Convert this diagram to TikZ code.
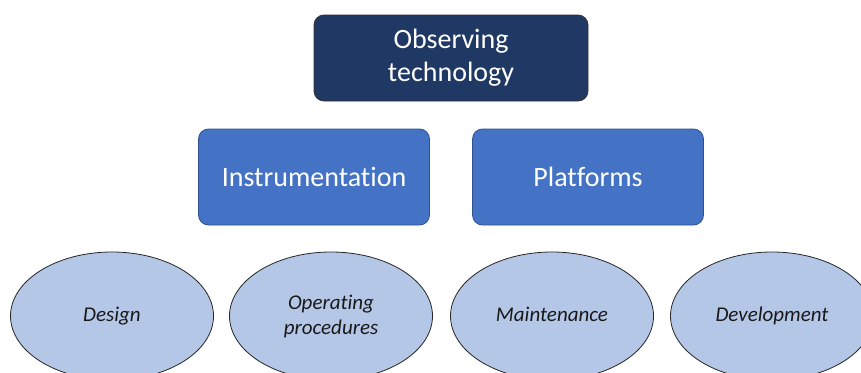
\documentclass[tikz,border=0pt]{standalone}
\usepackage{fontspec}
\setmainfont{Carlito}[Ligatures=NoCommon]
\usetikzlibrary{shapes.geometric}

\definecolor{navy}{HTML}{203864}
\definecolor{midblue}{HTML}{4472C4}
\definecolor{edgeblue}{HTML}{2F528F}
\definecolor{paleblue}{HTML}{B4C7E7}

\tikzset{
    topbox/.style={rectangle, rounded corners=10pt, fill=navy, draw=black!80,
        line width=0.8pt, minimum width=274pt, minimum height=86pt,
        text=white, align=center, font=\fontsize{28}{33}\selectfont},
    midbox/.style={rectangle, rounded corners=10pt, fill=midblue, draw=edgeblue,
        line width=0.8pt, minimum width=231pt, minimum height=96pt,
        text=white, align=center, font=\fontsize{28}{33}\selectfont},
    leaf/.style={ellipse, fill=paleblue, draw=black!85, line width=0.8pt,
        minimum width=203pt, minimum height=128pt, inner sep=0pt,
        text=black!90, align=center, font=\itshape\fontsize{21}{25}\selectfont}
}

\begin{document}
\begin{tikzpicture}[x=1pt, y=-1pt]
    \useasboundingbox (0,0) rectangle (861,372);

    \node[topbox] (obs) at (451,58) {Observing\\technology};

    \node[midbox] (instr) at (314,177) {Instrumentation};
    \node[midbox] (plat) at (588,177) {Platforms};

    % bottom row, cut off by the frame
    \node[leaf] (design) at (112,316) {Design\strut};
    \node[leaf] (oper) at (331,316) {Operating\\procedures};
    \node[leaf] (maint) at (552,316) {Maintenance\strut};
    \node[leaf] (devel) at (772,316) {Development\strut};

\end{tikzpicture}
\end{document}
